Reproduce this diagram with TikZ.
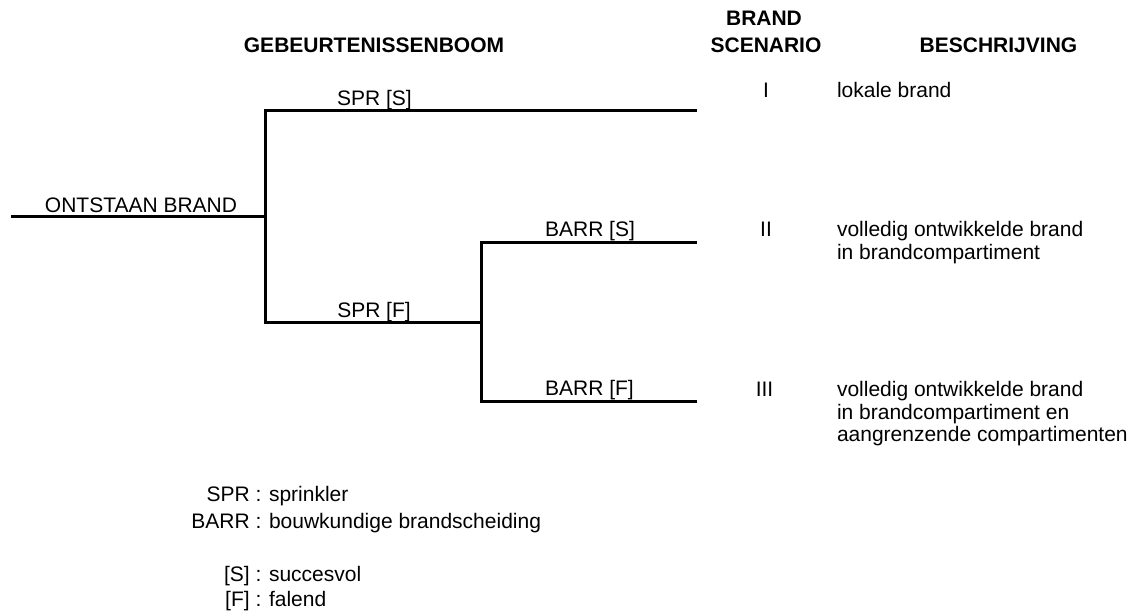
\documentclass[tikz,border=0pt]{standalone}
\usepackage{fontspec}
\setmainfont{Liberation Sans}
\begin{document}
\begin{tikzpicture}[x=0.5pt,y=-0.5pt,
  every node/.style={inner sep=0pt,outer sep=0pt,font=\fontsize{10.5}{11.25}\selectfont},
  branch/.style={line width=1.5pt,black},
  head/.style={anchor=base,font=\fontsize{10.5}{11.25}\selectfont\bfseries},
  lbl/.style={anchor=base},
  desc/.style={anchor=base west},
  key/.style={anchor=base east},
  keytext/.style={anchor=base west}]
\useasboundingbox (0,0) rectangle (1140,612);

% column headings
\node[head] (hTree) at (374,52) {GEBEURTENISSENBOOM};
\node[head] (hBrand) at (764,25) {BRAND};
\node[head] (hScen) at (766,52.7) {SCENARIO};
\node[head] (hDesc) at (998.5,52) {BESCHRIJVING};

% branching points of the event tree
\coordinate (r0) at (11,216);
\coordinate (j1) at (265,216);
\coordinate (j1t) at (265,110);
\coordinate (j1b) at (265,322);
\coordinate (e1) at (697,110);
\coordinate (j2) at (481.5,322);
\coordinate (j2t) at (481.5,242);
\coordinate (j2b) at (481.5,401);
\coordinate (e2) at (697,242);
\coordinate (e3) at (697,401);

\draw[branch] (r0) -- (j1);
\draw[branch] (e1) -- (j1t) -- (j1b) -- (j2);
\draw[branch] (e2) -- (j2t) -- (j2b) -- (e3);

% branch labels
\node[lbl] (lRoot) at (141,212) {ONTSTAAN BRAND};
\node[lbl] (lSprS) at (374.5,105) {SPR [S]};
\node[lbl] (lSprF) at (374,317) {SPR [F]};
\node[lbl] (lBarS) at (590,236) {BARR [S]};
\node[lbl] (lBarF) at (589.5,395.5) {BARR [F]};

% fire scenarios
\node[lbl] (s1) at (766,97) {I};
\node[lbl] (s2) at (766,236.7) {II};
\node[lbl] (s3) at (764.5,396.7) {III};

% descriptions (first line on the anchor's baseline)
\node[desc] (d1) at (837,97) {lokale brand};
\node[desc] (d2) at (837,236.7)
  {\begin{tabular}[t]{@{}l@{}}volledig ontwikkelde brand\\in brandcompartiment\end{tabular}};
\node[desc] (d3) at (837,396.7)
  {\begin{tabular}[t]{@{}l@{}}volledig ontwikkelde brand\\in brandcompartiment en\\aangrenzende compartimenten\end{tabular}};

% legend
\node[key] (k1) at (261.4,501.5) {SPR :};
\node[keytext] (t1) at (269,501.5) {sprinkler};
\node[key] (k2) at (261.4,528.3) {BARR :};
\node[keytext] (t2) at (269,528.3) {bouwkundige brandscheiding};
\node[key] (k3) at (261.4,581.5) {[S] :};
\node[keytext] (t3) at (269,581.5) {succesvol};
\node[key] (k4) at (261.4,606.7) {[F] :};
\node[keytext] (t4) at (269,606.7) {falend};
\end{tikzpicture}
\end{document}
